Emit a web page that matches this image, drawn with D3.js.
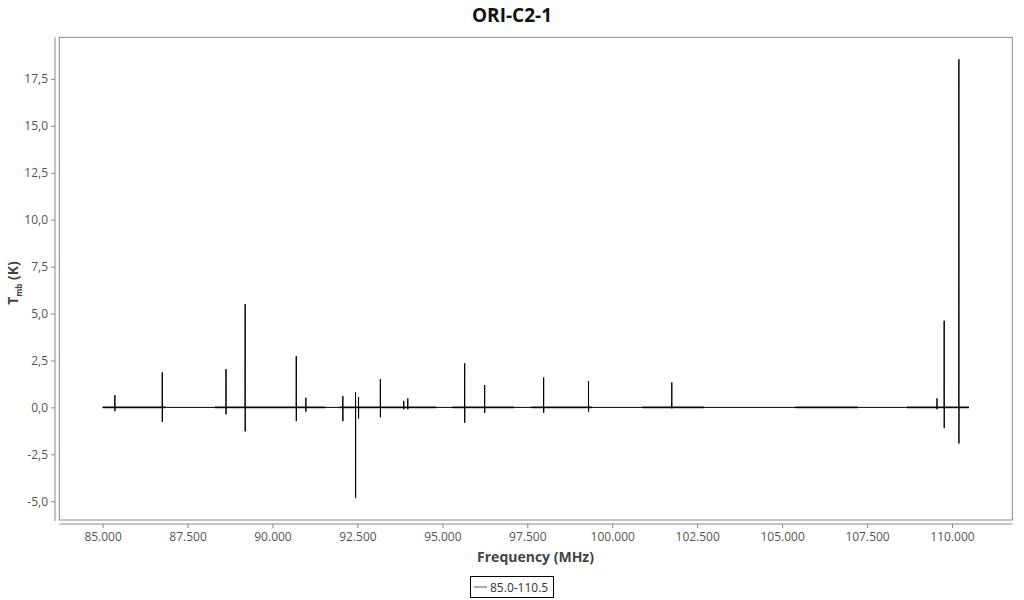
<!DOCTYPE html>
<html><head><meta charset="utf-8">
<script src="https://cdn.jsdelivr.net/npm/d3@7"></script>
<style>
body{margin:0;background:#fff;}
text{font-family:"Open Sans","Noto Sans",sans-serif;}
</style></head>
<body><svg id="c" width="1024" height="600"></svg>
<script>
// Observed frequency segments (MHz)
const segStart = [85000, 88300, 91970, 95290, 97610, 100880, 105380, 108670];
const segEnd   = [86850, 91560, 94830, 97120, 99410, 102700, 107230, 110500];
// Spectral line spikes: frequency (MHz), peak (K), dip (K)
const lineFreq = [85361, 86756, 88632, 89195, 90700, 90982, 92071, 92445, 92533, 93175, 93864, 93982, 95657, 96245, 97981, 99302, 101753, 109559, 109770, 110203];
const linePeak = [0.65, 1.87, 2.04, 5.51, 2.74, 0.51, 0.6, 0.8, 0.55, 1.51, 0.35, 0.48, 2.35, 1.19, 1.6, 1.4, 1.33, 0.48, 4.62, 18.55];
const lineDip  = [-0.2, -0.77, -0.37, -1.28, -0.73, -0.23, -0.73, -4.83, -0.6, -0.53, -0.1, -0.1, -0.82, -0.29, -0.29, -0.23, -0.05, -0.1, -1.09, -1.92];
const xTicks = [85000, 87500, 90000, 92500, 95000, 97500, 100000, 102500, 105000, 107500, 110000];
const yTicks = [-5, -2.5, 0, 2.5, 5, 7.5, 10, 12.5, 15, 17.5];
const seriesName = "85.0-110.5";
const title = "ORI-C2-1";

const loc = d3.formatLocale({decimal:",", thousands:".", grouping:[3], currency:["","€"], minus:"-"});
const fx = loc.format(",d"), fy = loc.format(".1f");

// build series points
const pts = [];
segStart.forEach((s,i)=>{ pts.push([s,0]); pts.push([segEnd[i],0]); });
lineFreq.forEach((f,i)=>{ pts.push([f-2,0]); pts.push([f,linePeak[i]]); pts.push([f+1,lineDip[i]]); pts.push([f+3,0]); });
pts.sort((a,b)=>a[0]-b[0]);

const L=59.3, R=1012.3, T=37.3, B=520;
const xe = d3.extent(pts,d=>d[0]), ye = d3.extent(pts,d=>d[1]);
const px=(xe[1]-xe[0])*0.05, py=(ye[1]-ye[0])*0.05;
const x = d3.scaleLinear().domain([xe[0]-px, xe[1]+px]).range([L,R]);
const y = d3.scaleLinear().domain([ye[0]-py, ye[1]+py]).range([B,T]);

const svg = d3.select("#c");
svg.append("rect").attr("x",L).attr("y",T).attr("width",R-L).attr("height",B-T)
  .attr("fill","#fff").attr("stroke","#888").attr("stroke-width",1);

// y axis
const ya = svg.append("g").attr("transform","translate(55,0)")
  .call(d3.axisLeft(y).tickValues(yTicks).tickFormat(fy).tickSizeOuter(0).tickSize(4));
ya.select(".domain").attr("stroke","#888").attr("d",`M0,${T}V${B+1}`);
ya.selectAll(".tick line").attr("stroke","#888");
ya.selectAll(".tick text").attr("fill","#555").style("font-size","12px").attr("x",-7);

// x axis
const xa = svg.append("g").attr("transform","translate(0,524)")
  .call(d3.axisBottom(x).tickValues(xTicks).tickFormat(fx).tickSizeOuter(0).tickSize(4));
xa.select(".domain").attr("stroke","#888").attr("d",`M${L},0H${R}`);
xa.selectAll(".tick line").attr("stroke","#888");
xa.selectAll(".tick text").attr("fill","#555").style("font-size","12px").attr("y",8);

// clip
svg.append("clipPath").attr("id","cp").append("rect").attr("x",L).attr("y",T).attr("width",R-L).attr("height",B-T);
const g = svg.append("g").attr("clip-path","url(#cp)");

// noise band of observed segments
g.selectAll("line.seg").data(segStart).join("line").attr("class","seg")
  .attr("x1",d=>x(d)).attr("x2",(d,i)=>x(segEnd[i]))
  .attr("y1",y(0)).attr("y2",y(0)).attr("stroke","#333").attr("stroke-width",1.8);

g.append("path").datum(pts)
  .attr("d",d3.line().x(d=>x(d[0])).y(d=>y(d[1])))
  .attr("fill","none").attr("stroke","#000").attr("stroke-width",1);

// title
svg.append("text").attr("x",512).attr("y",22).attr("text-anchor","middle")
  .style("font-size","19px").style("font-weight","bold").attr("fill","#111").text(title);
// x label
svg.append("text").attr("x",535.5).attr("y",562).attr("text-anchor","middle")
  .style("font-size","14px").style("font-weight","bold").attr("fill","#444").text("Frequency (MHz)");
// y label
const yl = svg.append("text").attr("transform","translate(18,283) rotate(-90)").attr("text-anchor","middle")
  .style("font-size","14px").style("font-weight","bold").attr("fill","#444");
yl.append("tspan").text("T");
yl.append("tspan").attr("dy",4).style("font-size","8px").text("mb");
yl.append("tspan").attr("dy",-4).text(" (K)");

// legend
const lg = svg.append("g");
lg.append("rect").attr("x",470.5).attr("y",576.5).attr("width",83).attr("height",21).attr("fill","#fff").attr("stroke","#000");
lg.append("line").attr("x1",474).attr("x2",487).attr("y1",587).attr("y2",587).attr("stroke","#555");
lg.append("text").attr("x",490).attr("y",591.5).style("font-size","12px").attr("fill","#333").text(seriesName);
</script></body></html>
